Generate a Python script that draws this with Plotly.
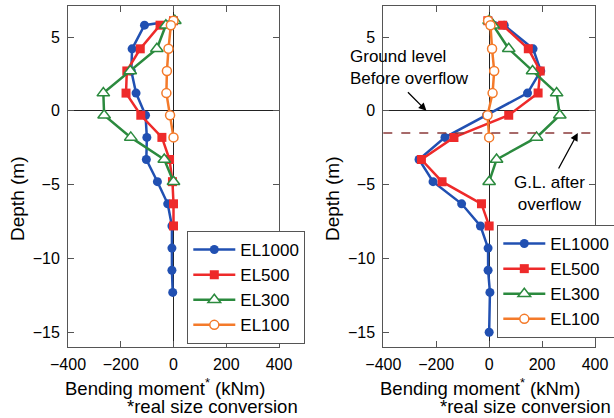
import plotly.graph_objects as go

# ---------------- data ----------------
depth = [6.1, 5.8, 4.2, 2.7, 1.2, -0.3, -1.8, -3.3, -4.8, -6.3, -7.8, -9.3, -10.8, -12.3]
depth_right_1000 = [6.1, 5.8, 4.2, 2.7, 1.2, -0.3, -1.8, -3.3, -4.8, -6.3, -7.8, -9.3, -10.8, -12.3, -15.0]

series_names = ["EL1000", "EL500", "EL300", "EL100"]

left_el1000 = [0, -110, -157, -160, -142, -106, -101, -103, -61, -22, -6, -6, -6, -3]
left_el500 = [0, -51, -126, -177, -180, -124, -44, -15, -4, 0, 0]
left_el300 = [5, -29, -63, -164, -266, -263, -162, -35, 0]
left_el100 = [0, -10, -19, -25, -27, -13, 0]

right_el1000 = [0, 57, 166, 195, 145, -10, -167, -265, -212, -104, -33, -4, -4, 3, 0]
right_el500 = [-5, 51, 148, 193, 185, 74, -133, -256, -178, -29, 0]
right_el300 = [0, 15, 74, 164, 255, 267, 179, 28, 0]
right_el100 = [-4, 5, 11, 19, 13, -6, 0]

gl_before = 0.0
gl_after = -1.5

x_ticks = [-400, -200, 0, 200, 400]
y_ticks = [5, 0, -5, -10, -15]

# ---------------- styles ----------------
FONT = "Liberation Sans, Arial, sans-serif"
colors = {"EL1000": "#2150b2", "EL500": "#ee2a2a", "EL300": "#2b8a3e", "EL100": "#f47a2a"}
markers = {
    "EL1000": dict(symbol="circle", size=9, color=colors["EL1000"]),
    "EL500": dict(symbol="square", size=9, color=colors["EL500"]),
    "EL300": dict(symbol="triangle-up", size=11, color="white", line=dict(color=colors["EL300"], width=1.5)),
    "EL100": dict(symbol="circle", size=9, color="white", line=dict(color=colors["EL100"], width=1.5)),
}

fig = go.Figure()

left_vals = [left_el1000, left_el500, left_el300, left_el100]
right_vals = [right_el1000, right_el500, right_el300, right_el100]

for name, vals in zip(series_names, left_vals):
    fig.add_trace(go.Scatter(
        x=vals, y=depth[:len(vals)], mode="lines+markers", name=name,
        line=dict(color=colors[name], width=2.5), marker=markers[name],
        xaxis="x", yaxis="y", legend="legend"))

for name, vals in zip(series_names, right_vals):
    ys = depth_right_1000 if name == "EL1000" else depth[:len(vals)]
    fig.add_trace(go.Scatter(
        x=vals, y=ys, mode="lines+markers", name=name,
        line=dict(color=colors[name], width=2.5), marker=markers[name],
        xaxis="x2", yaxis="y2", legend="legend2"))

axis_common = dict(
    showgrid=False, showline=True, linecolor="#555", linewidth=1, mirror="ticks",
    ticks="inside", ticklen=6, tickcolor="#555", tickwidth=1,
    zeroline=True, zerolinecolor="#222", zerolinewidth=1,
    tickfont=dict(family=FONT, size=16, color="black"),
    automargin=False,
)

W, H = 614, 418
def px_x(p):
    return p / W
def px_y(p):
    return 1 - p / H

legend_common = dict(xanchor="left", yanchor="top", bgcolor="white", bordercolor="#555",
                     borderwidth=1, font=dict(family=FONT, size=17, color="black"),
                     tracegroupgap=0, itemwidth=42)

fig.update_layout(
    width=W, height=H, margin=dict(l=0, r=0, t=0, b=0, autoexpand=False),
    paper_bgcolor="white", plot_bgcolor="white",
    font=dict(family=FONT, color="black"),
    xaxis=dict(domain=[px_x(68), px_x(279)], range=[-400, 400], tickvals=x_ticks,
               anchor="y", ticklabelstandoff=3, **axis_common),
    yaxis=dict(domain=[px_y(347), px_y(6)], range=[-16, 7.1], tickvals=y_ticks,
               anchor="x", ticklabelstandoff=4, **axis_common),
    xaxis2=dict(domain=[px_x(383.3), px_x(595)], range=[-400, 400], tickvals=x_ticks,
                anchor="y2", ticklabelstandoff=3, **axis_common),
    yaxis2=dict(domain=[px_y(347), px_y(6)], range=[-16, 7.1], tickvals=y_ticks,
                anchor="x2", ticklabelstandoff=4, **axis_common),
    legend=dict(x=px_x(187.3), y=px_y(231), **legend_common),
    legend2=dict(x=px_x(497.3), y=px_y(225), **legend_common),
    showlegend=True,
)

# dashed ground level after overflow
fig.add_shape(type="line", xref="x2 domain", yref="y2", x0=0, x1=1, y0=gl_after, y1=gl_after,
              line=dict(color="#8b3a3a", width=1.5, dash="dash"))

ann = []
tf = dict(family=FONT, size=17, color="black")
tt = dict(family=FONT, size=18.5, color="black")
# axis titles
for xl, x2l in [(63, 300), (378.3, 613)]:
    ann.append(dict(xref="paper", yref="paper", x=px_x(xl), y=px_y(387), xanchor="left", yanchor="middle",
                    text="Bending moment<sup>*</sup> (kNm)", showarrow=False, font=tt))
    ann.append(dict(xref="paper", yref="paper", x=px_x(x2l), y=px_y(406), xanchor="right", yanchor="middle",
                    text="*real size conversion", showarrow=False, font=tt))
for xc in [17, 332]:
    ann.append(dict(xref="paper", yref="paper", x=px_x(xc), y=px_y(199), xanchor="center", yanchor="middle",
                    text="Depth (m)", textangle=-90, showarrow=False,
                    font=dict(family=FONT, size=19, color="black")))
# callouts
ann.append(dict(xref="paper", yref="paper", x=px_x(348), y=px_y(67.5), xanchor="left", yanchor="middle",
                align="left", text="Ground level<br>Before overflow", showarrow=False, font=tf))
ann.append(dict(xref="paper", yref="paper", x=px_x(549), y=px_y(193), xanchor="center", yanchor="middle",
                align="center", text="G.L. after<br>overflow", showarrow=False, font=tf))
ann.append(dict(xref="x2", yref="y2", x=-237, y=gl_before, ax=-20, ay=-20, text="", showarrow=True,
                arrowhead=2, arrowsize=1.2, arrowwidth=1.3, arrowcolor="black"))
ann.append(dict(xref="x2", yref="y2", x=335, y=gl_after, ax=-20, ay=37, text="", showarrow=True,
                arrowhead=2, arrowsize=1.2, arrowwidth=1.3, arrowcolor="black"))
fig.update_layout(annotations=ann)

fig.write_html("out.html", config={"displayModeBar": False},
               post_script="document.body.style.margin='0';document.body.style.padding='0';")
